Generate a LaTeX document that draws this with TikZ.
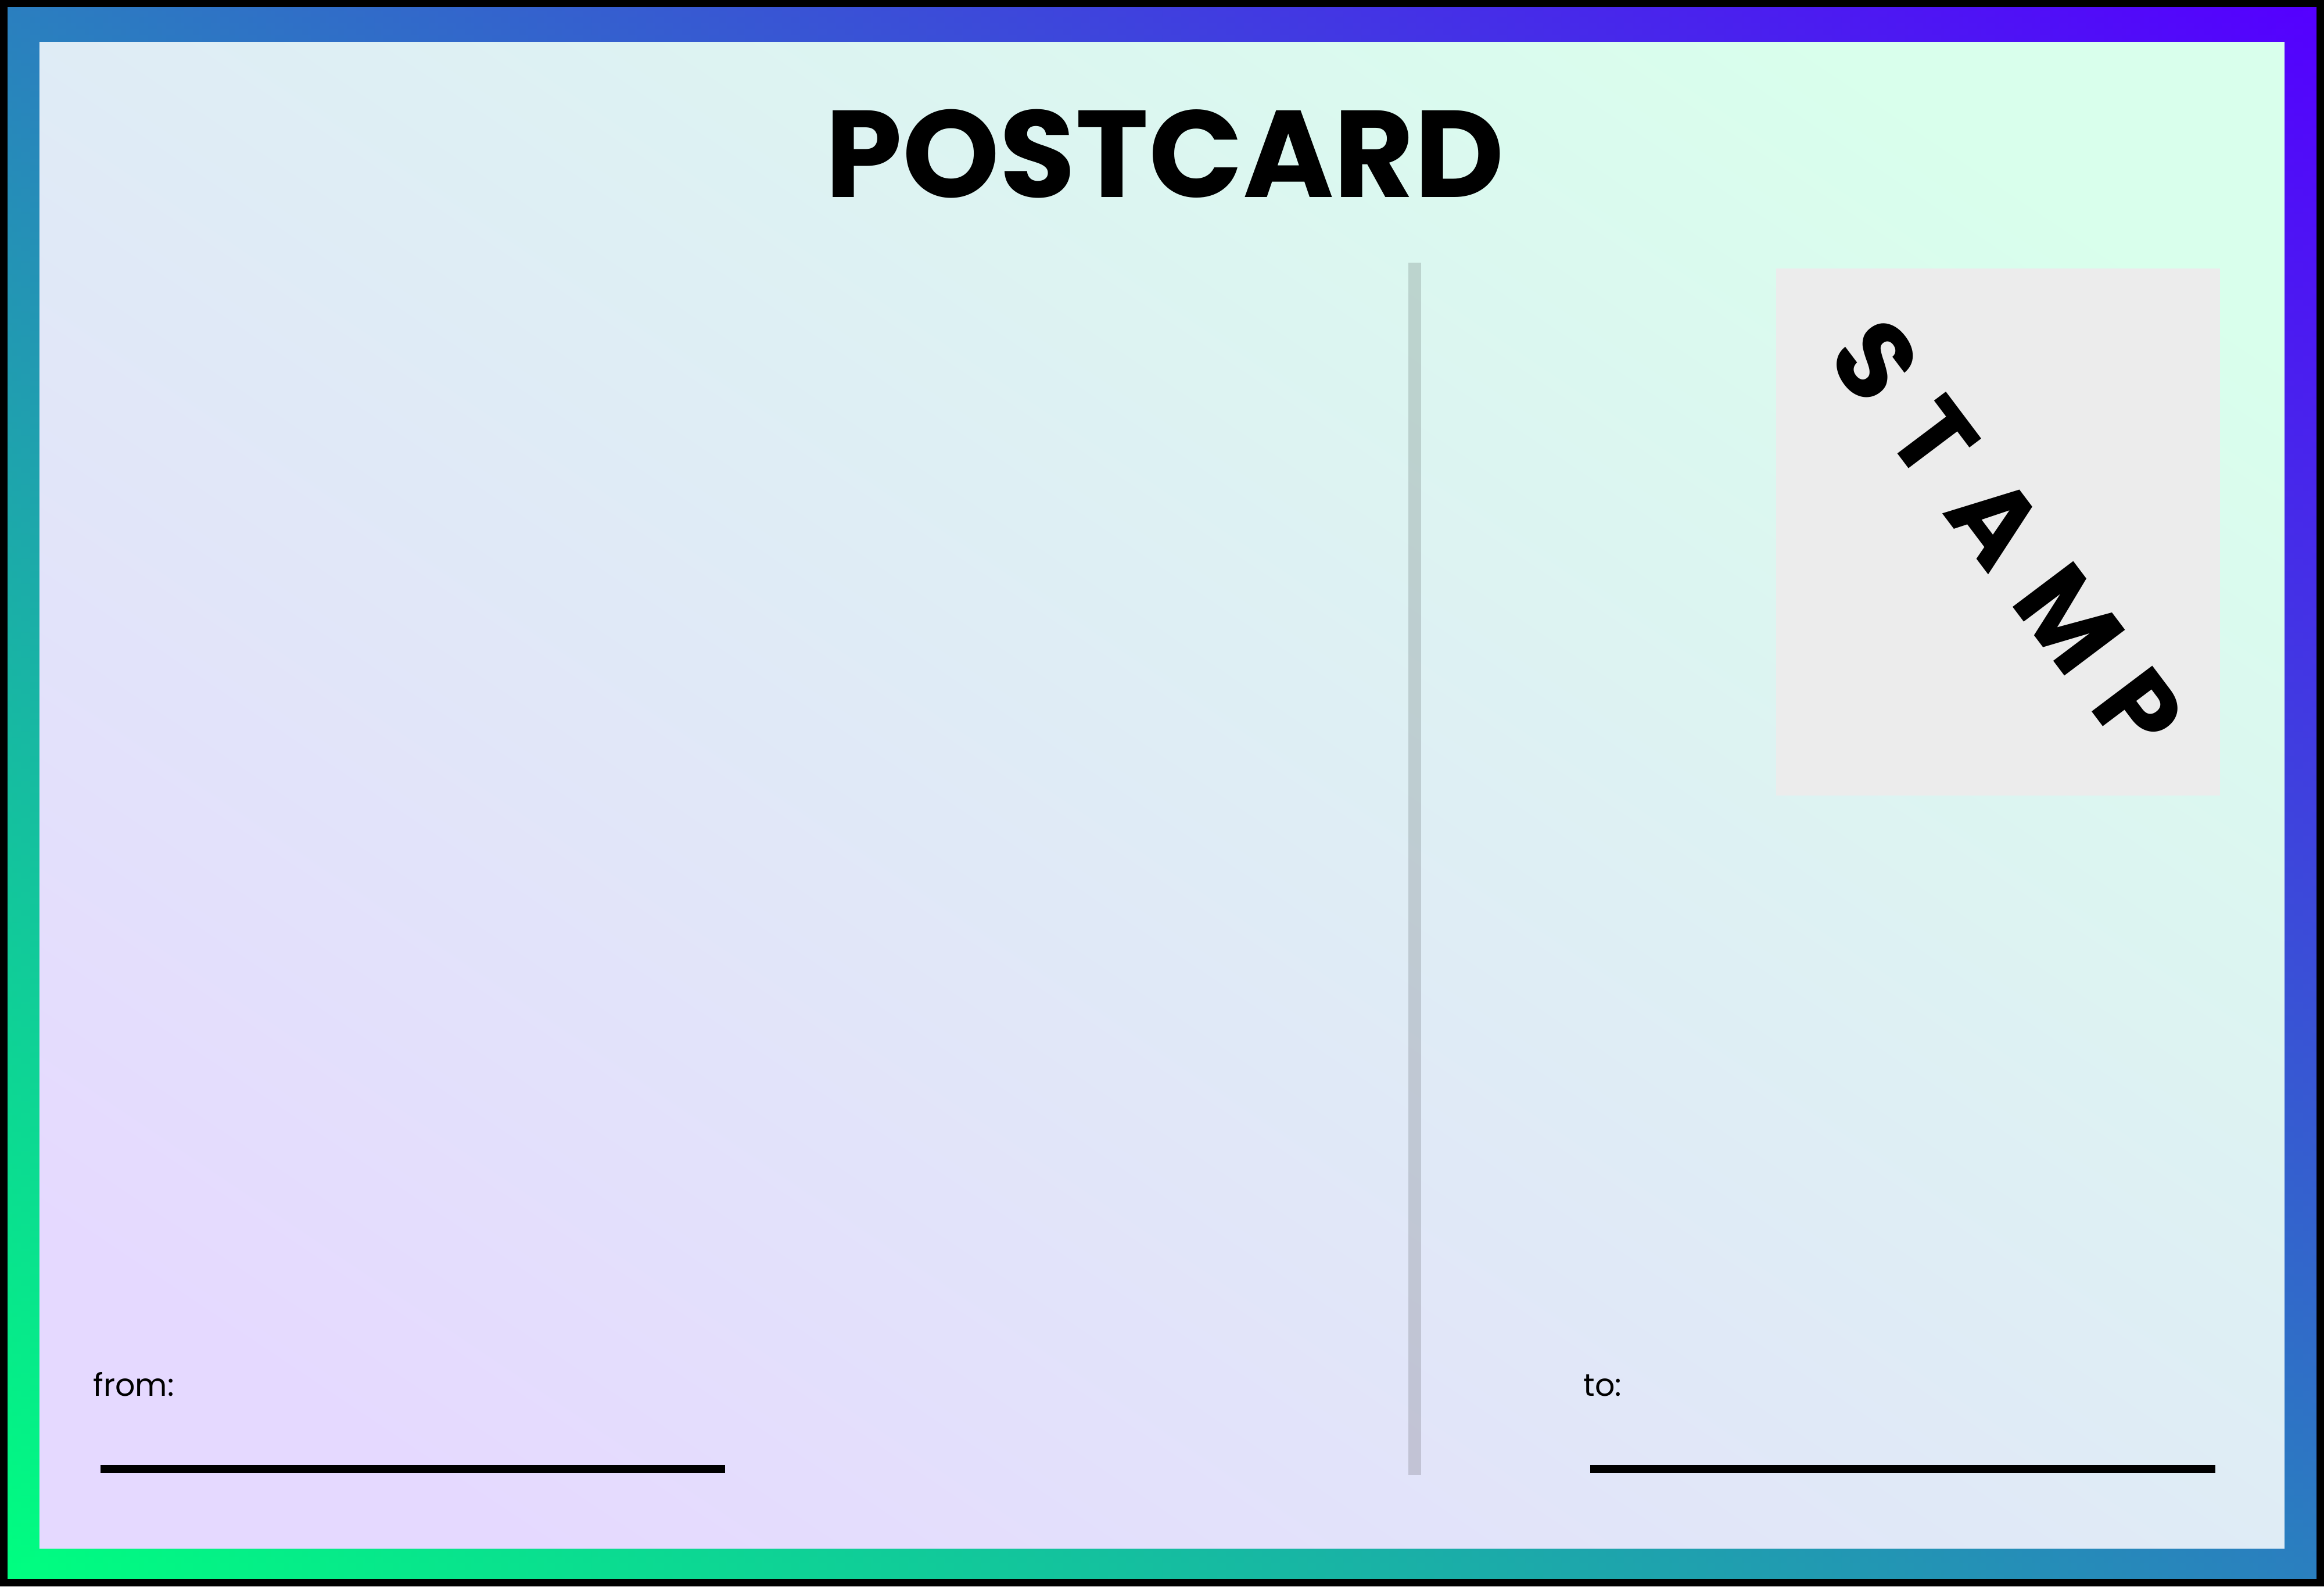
\documentclass[tikz,border=0pt]{standalone}
\usepackage{fontspec}
\setmainfont{Poppins}
\definecolor{cardgreen}{HTML}{00FF80}
\definecolor{cardviolet}{HTML}{5500FF}
\colorlet{panelviolet}{cardviolet!15!white}
\colorlet{panelgreen}{cardgreen!15!white}
\colorlet{stampgray}{black!7.5}
\pgfdeclarehorizontalshading{panelfade}{100bp}{color(0bp)=(panelviolet); color(22.2bp)=(panelviolet); color(77.8bp)=(panelgreen); color(100bp)=(panelgreen)}
\begin{document}
\begin{tikzpicture}
	\tikzstyle{every node}=[inner sep=0pt]
	\tikzstyle{rule}=[line width=0.14cm]
	
	% card and frame (diagonal fade = half across + half up)
	\fill[black] (0,0) rectangle (40,27.3);
	\shade[left color=cardgreen, right color=cardviolet] (0.13,0.14) rectangle (39.87,27.17);
	\shade[bottom color=cardgreen, top color=cardviolet, opacity=0.5] (0.13,0.14) rectangle (39.87,27.17);
	\shade[shading=panelfade, shading angle=56.2] (0.68,0.66) rectangle (39.32,26.57);
	
	\node[font=\bfseries\fontsize{60.5}{61}\selectfont, anchor=base] (title) at (20.05,23.90) {POSTCARD};
	
	% divider
	\fill[black, opacity=0.14] (24.24,1.92) rectangle (24.46,22.78);
	
	\begin{scope}
	\fill[stampgray] (30.57,13.61) rectangle (38.21,22.68);
	\node[font=\bfseries\fontsize{53}{53}\selectfont\addfontfeature{LetterSpace=29.5}, rotate=-53] (stamp) at (34.54,18.08) {STAMP};
	\end{scope}
	
	% sender and address
	\node[font=\fontsize{15.3}{16}\selectfont, anchor=base west] (from) at (1.60,3.27) {from:};
	\draw[rule] (1.73,2.02) -- (12.48,2.02);
	\node[font=\fontsize{15.3}{16}\selectfont, anchor=base west] (to) at (27.25,3.27) {to:};
	\draw[rule] (27.37,2.02) -- (38.13,2.02);
	
\end{tikzpicture}
\end{document}
